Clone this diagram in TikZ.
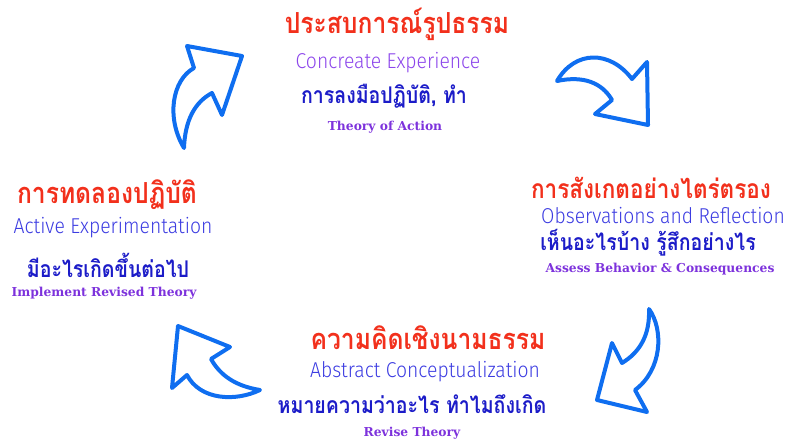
\documentclass[tikz,border=0pt]{standalone}
\usepackage{fontspec}
\newfontfamily\thaifont[Script=Thai, FakeStretch=0.85]{Loma}
\newfontfamily\engfont[FakeStretch=0.9]{Fira Sans Light}
\newfontfamily\theoryfont{DejaVu Serif}
\definecolor{thaired}{RGB}{242,48,28}
\definecolor{engpurple}{RGB}{140,70,235}
\definecolor{engblue}{RGB}{60,60,225}
\definecolor{thaiblue}{RGB}{28,28,200}
\definecolor{theorypurple}{RGB}{125,50,220}
\definecolor{arrowblue}{RGB}{15,110,240}
\begin{document}
\begin{tikzpicture}[x=1pt, y=-1pt,
		redtitle/.style={text=thaired, font=\thaifont\bfseries\fontsize{29}{32}\selectfont, inner sep=0},
		englabel/.style={font=\engfont\fontsize{21.5}{24}\selectfont, inner sep=0},
		thailabel/.style={text=thaiblue, font=\thaifont\bfseries\fontsize{23}{26}\selectfont, inner sep=0},
		theorylabel/.style={text=theorypurple, font=\theoryfont\bfseries\fontsize{12.3}{14}\selectfont, inner sep=0}]
		\useasboundingbox (0,0) rectangle (791,445);
		\begin{scope} [draw = arrowblue, line width = 4pt, line join = round, fill = white]
		% top left arrow
		\draw (184,148) .. controls (166,118) and (172,80) .. (194,68) -- (187,46) -- (242,56) -- (222,115) -- (212,93) .. controls (195,102) and (185,120) .. (184,148) -- cycle;
		% top right arrow
		\draw (557,81) .. controls (575,50) and (610,50) .. (632,79) -- (647,62) -- (648,125) -- (595,114) -- (612,100) .. controls (605,88) and (590,74) .. (557,81) -- cycle;
		% bottom right arrow
		\draw (649,309) .. controls (664,330) and (662,370) .. (635,390) -- (647,412) -- (597,400) -- (612,343) -- (622,363) .. controls (640,352) and (650,335) .. (649,309) -- cycle;
		% bottom left arrow
		\draw (260,390) .. controls (235,402) and (200,400) .. (187,375) -- (172,388) -- (178,326) -- (230,347) -- (211,359) .. controls (220,375) and (235,386) .. (260,390) -- cycle;
		\end{scope}
		% top
		\node [redtitle] (ceThai) at (397, 24) {ประสบการณ์รูปธรรม};
		\node [englabel, text=engpurple] (ceEng) at (388, 63) {Concreate Experience};
		\node [thailabel] (ceDo) at (384, 96) {การลงมือปฏิบัติ, ทำ};
		\node [theorylabel] (ceTheory) at (385, 127) {Theory of Action};
		% right
		\node [redtitle, font=\thaifont\bfseries\fontsize{26.5}{30}\selectfont] (orThai) at (651, 188) {การสังเกตอย่างไตร่ตรอง};
		\node [englabel, text=engblue] (orEng) at (663, 216) {Observations and Reflection};
		\node [thailabel] (orSee) at (648, 243) {เห็นอะไรบ้าง รู้สึกอย่างไร};
		\node [theorylabel] (orTheory) at (660, 269) {Assess Behavior \& Consequences};
		% bottom
		\node [redtitle] (acThai) at (428, 338) {ความคิดเชิงนามธรรม};
		\node [englabel, text=engblue] (acEng) at (425, 372) {Abstract Conceptualization};
		\node [thailabel] (acMean) at (412, 404) {หมายความว่าอะไร ทำไมถึงเกิด};
		\node [theorylabel] (acTheory) at (412, 433) {Revise Theory};
		% left
		\node [redtitle] (aeThai) at (107, 195) {การทดลองปฏิบัติ};
		\node [englabel, text=engblue] (aeEng) at (113, 228) {Active Experimentation};
		\node [thailabel] (aeNext) at (108, 265) {มีอะไรเกิดขึ้นต่อไป};
		\node [theorylabel] (aeTheory) at (104, 293) {Implement Revised Theory};
		\end{tikzpicture}
\end{document}
